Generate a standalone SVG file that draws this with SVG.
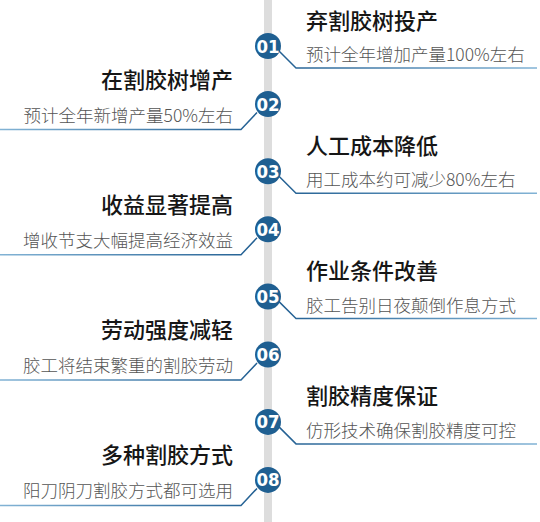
<svg xmlns="http://www.w3.org/2000/svg" width="540" height="522" viewBox="0 0 540 522">
<defs>
<style>
.bar{fill:#dddddd}
.dot{fill:#1f5f91}
.num{fill:#ffffff;font-family:"Liberation Sans Narrow","DejaVu Sans Condensed","Liberation Sans",sans-serif;font-weight:bold;font-size:18.5px;text-anchor:middle}
.title{fill:#161616;font-family:"Noto Sans CJK SC","Noto Sans",sans-serif;font-weight:500;font-size:22px}
.sub{fill:#555555;font-family:"Noto Sans CJK SC","Noto Sans",sans-serif;font-weight:300;font-size:17.5px}
.l{text-anchor:end}
.cr{fill:none;stroke:url(#gr);stroke-width:1.5}
.cl{fill:none;stroke:url(#gl);stroke-width:1.5}
</style>
<linearGradient id="gr" gradientUnits="userSpaceOnUse" x1="278" y1="0" x2="537" y2="0">
<stop offset="0" stop-color="#225f92"/>
<stop offset="1" stop-color="#82b3d5"/>
</linearGradient>
<linearGradient id="gl" gradientUnits="userSpaceOnUse" x1="0" y1="0" x2="257" y2="0">
<stop offset="0" stop-color="#82b3d5"/>
<stop offset="1" stop-color="#225f92"/>
</linearGradient>
</defs>
<rect class="bar" x="264" y="0" width="8" height="522"/>
<g id="connectors">
<path class="cr" d="M278,50 L296,68 H537"/>
<path class="cl" d="M0,129.5 H241 L257,112.5"/>
<path class="cr" d="M278,175.3 L296,193.3 H537"/>
<path class="cl" d="M0,254.8 H241 L257,237.8"/>
<path class="cr" d="M278,300.6 L296,318.6 H537"/>
<path class="cl" d="M0,380.1 H241 L257,363.1"/>
<path class="cr" d="M278,425.9 L296,443.9 H537"/>
<path class="cl" d="M0,505.4 H241 L257,488.4"/>
</g>
<g id="node01">
<circle class="dot" cx="268" cy="46" r="13"/>
<text class="num" x="268" y="52.5">01</text>
<text class="title" x="306" y="28.5">弃割胶树投产</text>
<text class="sub" x="306" y="61">预计全年增加产量100%左右</text>
</g>
<g id="node02">
<circle class="dot" cx="268" cy="104" r="13"/>
<text class="num" x="268" y="110.5">02</text>
<text class="title l" x="233" y="87.5">在割胶树增产</text>
<text class="sub l" x="233" y="121.5">预计全年新增产量50%左右</text>
</g>
<g id="node03">
<circle class="dot" cx="268" cy="171.3" r="13"/>
<text class="num" x="268" y="177.8">03</text>
<text class="title" x="306" y="153.8">人工成本降低</text>
<text class="sub" x="306" y="186.3">用工成本约可减少80%左右</text>
</g>
<g id="node04">
<circle class="dot" cx="268" cy="229.3" r="13"/>
<text class="num" x="268" y="235.8">04</text>
<text class="title l" x="233" y="212.8">收益显著提高</text>
<text class="sub l" x="233" y="246.8">增收节支大幅提高经济效益</text>
</g>
<g id="node05">
<circle class="dot" cx="268" cy="296.6" r="13"/>
<text class="num" x="268" y="303.1">05</text>
<text class="title" x="306" y="279.1">作业条件改善</text>
<text class="sub" x="306" y="311.6">胶工告别日夜颠倒作息方式</text>
</g>
<g id="node06">
<circle class="dot" cx="268" cy="354.6" r="13"/>
<text class="num" x="268" y="361.1">06</text>
<text class="title l" x="233" y="338.1">劳动强度减轻</text>
<text class="sub l" x="233" y="372.1">胶工将结束繁重的割胶劳动</text>
</g>
<g id="node07">
<circle class="dot" cx="268" cy="421.9" r="13"/>
<text class="num" x="268" y="428.4">07</text>
<text class="title" x="306" y="404.4">割胶精度保证</text>
<text class="sub" x="306" y="436.9">仿形技术确保割胶精度可控</text>
</g>
<g id="node08">
<circle class="dot" cx="268" cy="479.9" r="13"/>
<text class="num" x="268" y="486.4">08</text>
<text class="title l" x="233" y="463.4">多种割胶方式</text>
<text class="sub l" x="233" y="497.4">阳刀阴刀割胶方式都可选用</text>
</g>
</svg>
